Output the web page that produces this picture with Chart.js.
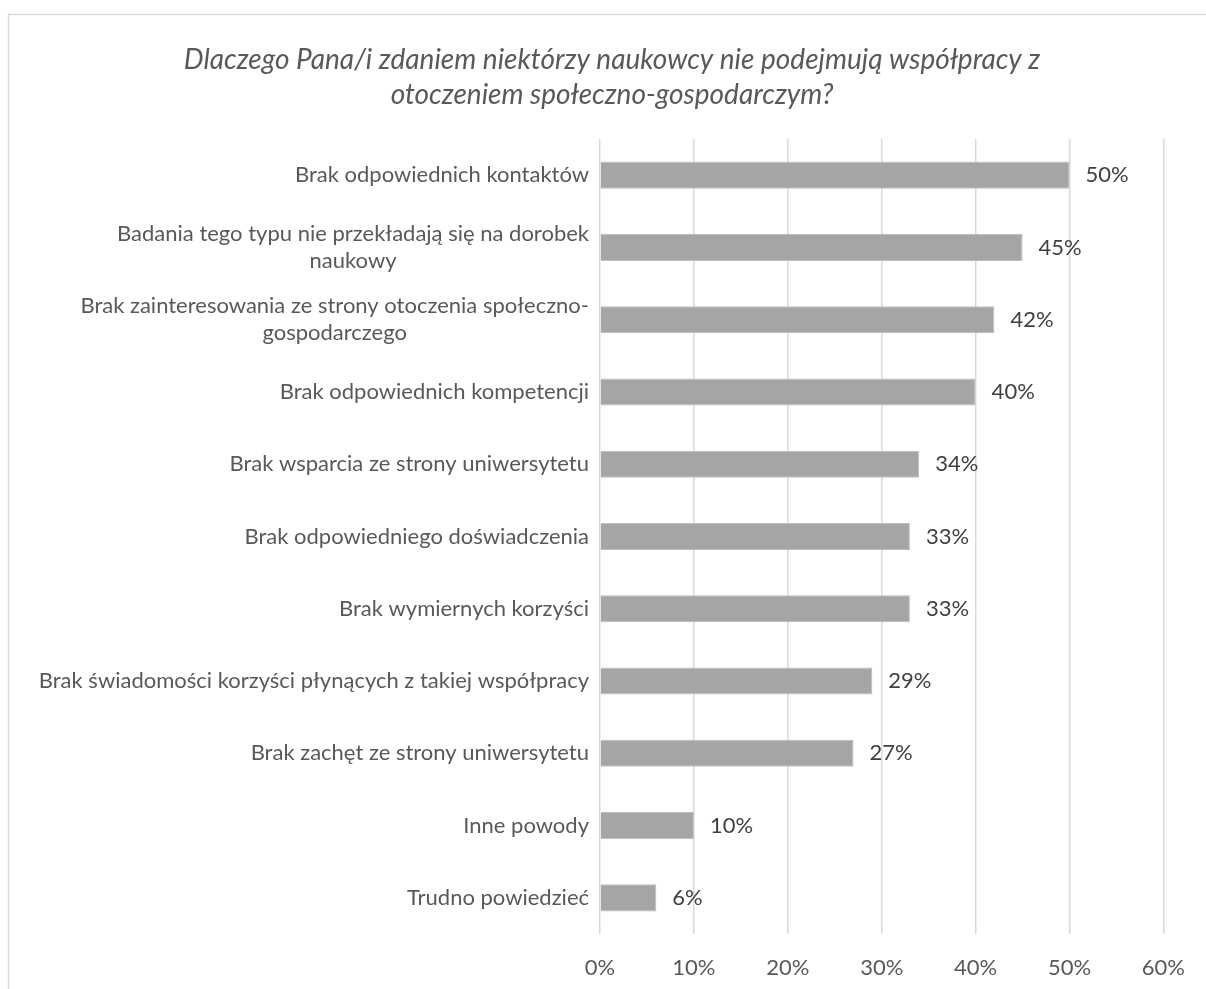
<!DOCTYPE html>
<html lang="pl">
<head>
<meta charset="utf-8">
<title>Współpraca z otoczeniem społeczno-gospodarczym</title>
<script src="https://cdn.jsdelivr.net/npm/chart.js@4/dist/chart.umd.min.js"></script>
<style>
  html, body { margin: 0; padding: 0; background: #fff; }
  #wrap { width: 1206px; height: 989px; position: relative; }
</style>
</head>
<body>
<div id="wrap"><canvas id="reasons"></canvas></div>
<script>
  // Survey answers (share of respondents, %)
  const categories = [
    ["Brak odpowiednich kontaktów"],
    ["Badania tego typu nie przekładają się na dorobek", "naukowy"],
    ["Brak zainteresowania ze strony otoczenia społeczno-", "gospodarczego"],
    ["Brak odpowiednich kompetencji"],
    ["Brak wsparcia ze strony uniwersytetu"],
    ["Brak odpowiedniego doświadczenia"],
    ["Brak wymiernych korzyści"],
    ["Brak świadomości korzyści płynących z takiej współpracy"],
    ["Brak zachęt ze strony uniwersytetu"],
    ["Inne powody"],
    ["Trudno powiedzieć"]
  ];
  const shares = [50, 45, 42, 40, 34, 33, 33, 29, 27, 10, 6];
  const titleLines = [
    "Dlaczego Pana/i zdaniem niektórzy naukowcy nie podejmują współpracy z",
    "otoczeniem społeczno-gospodarczym?"
  ];
  const xMax = 60;
  const xStep = 10;

  const FONT = "Lato, 'Open Sans', sans-serif";
  const TEXT = '#595959';
  const LABEL_SIZE = 22;

  // frame + title drawn behind everything
  const framePlugin = {
    id: 'frame',
    beforeDraw(chart) {
      const c = chart.ctx;
      c.save();
      c.fillStyle = '#fff';
      c.fillRect(0, 0, chart.width, chart.height);
      c.strokeStyle = '#d9d9d9';
      c.lineWidth = 1.5;
      c.beginPath();
      c.moveTo(8.5, chart.height);
      c.lineTo(8.5, 14.5);
      c.lineTo(chart.width, 14.5);
      c.stroke();

      c.fillStyle = TEXT;
      c.font = "italic 28px " + FONT;
      c.textAlign = 'center';
      c.textBaseline = 'middle';
      titleLines.forEach((t, i) => c.fillText(t, 612, 60 + i * 35));
      c.restore();
    }
  };

  // category labels: block right-aligned to the axis, lines centred inside it
  const catLabels = {
    id: 'catLabels',
    afterDraw(chart) {
      const c = chart.ctx;
      const ys = chart.scales.y;
      const right = chart.chartArea.left - 11;
      c.save();
      c.font = LABEL_SIZE + "px " + FONT;
      c.fillStyle = TEXT;
      c.textBaseline = 'middle';
      c.textAlign = 'center';
      const lh = 27;
      categories.forEach((lines, i) => {
        const y = ys.getPixelForTick(i);
        const w = Math.max(...lines.map(l => c.measureText(l).width));
        const cx = right - w / 2;
        const y0 = y - (lines.length - 1) * lh / 2;
        lines.forEach((l, k) => c.fillText(l, cx, y0 + k * lh));
      });
      c.restore();
    }
  };

  // value labels just past the end of each bar
  const valueLabels = {
    id: 'valueLabels',
    afterDatasetsDraw(chart) {
      const c = chart.ctx;
      const meta = chart.getDatasetMeta(0);
      c.save();
      c.font = LABEL_SIZE + "px " + FONT;
      c.fillStyle = '#404040';
      c.textAlign = 'left';
      c.textBaseline = 'middle';
      meta.data.forEach((bar, i) => {
        c.fillText(shares[i] + '%', bar.x + 16, bar.y);
      });
      c.restore();
    }
  };

  new Chart(document.getElementById('reasons'), {
    type: 'bar',
    data: {
      labels: categories,
      datasets: [{
        data: shares,
        backgroundColor: '#a5a5a5',
        borderColor: '#bdbdbd',
        borderWidth: 1,
        categoryPercentage: 1,
        barPercentage: 0.375
      }]
    },
    options: {
      indexAxis: 'y',
      responsive: true,
      maintainAspectRatio: false,
      animation: false,
      layout: { padding: { top: 139, left: 0, right: 38, bottom: 0 } },
      plugins: {
        legend: { display: false },
        tooltip: { enabled: false },
        title: { display: false }
      },
      scales: {
        x: {
          min: 0,
          max: xMax,
          grid: { color: '#d9d9d9', lineWidth: 1.5, drawTicks: false },
          border: { display: false },
          ticks: {
            stepSize: xStep,
            padding: 21,
            color: TEXT,
            font: { family: FONT, size: LABEL_SIZE },
            callback: v => v + '%'
          },
          afterFit(scale) { scale.height = 55; }
        },
        y: {
          grid: { display: false },
          border: { display: false },
          ticks: { display: false },
          afterFit(scale) { scale.width = 600; }
        }
      }
    },
    plugins: [framePlugin, catLabels, valueLabels]
  });
</script>
</body>
</html>
